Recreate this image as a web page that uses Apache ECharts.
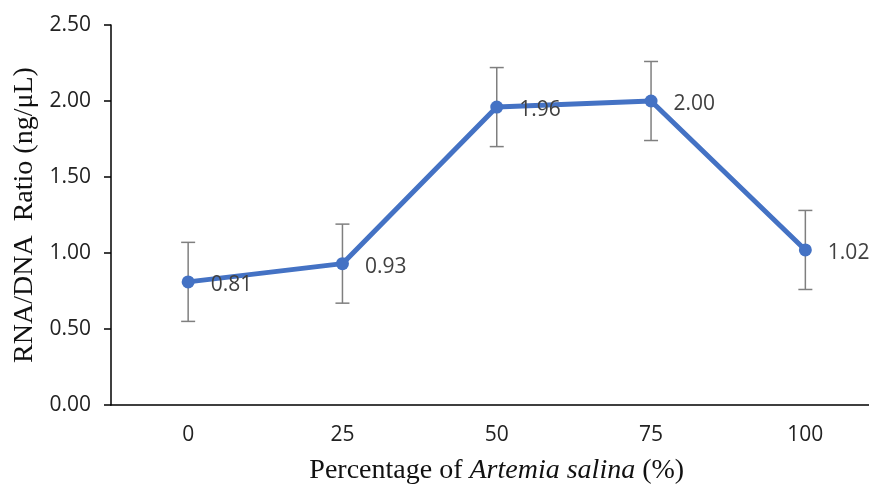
<!DOCTYPE html>
<html>
<head>
<meta charset="utf-8">
<script src="https://cdn.jsdelivr.net/npm/echarts@6/dist/echarts.min.js"></script>
<style>
  html, body { margin: 0; padding: 0; background: #fff; }
  #chart { width: 869px; height: 489px; }
</style>
</head>
<body>
<div id="chart"></div>
<script>
// Percentage of Artemia salina (%)
const categories = ['0', '25', '50', '75', '100'];
// RNA/DNA ratio means
const ratios = [0.81, 0.93, 1.96, 2.00, 1.02];
// error bar half-widths (+/-)
const errors = [0.26, 0.26, 0.26, 0.26, 0.26];

const errorData = ratios.map((v, i) => [i, v - errors[i], v + errors[i]]);

const chart = echarts.init(document.getElementById('chart'), null, { renderer: 'canvas' });

chart.setOption({
  animation: false,
  grid: { left: 111, right: -13.5, top: 25, bottom: 84, outerBoundsMode: 'none' },
  xAxis: {
    type: 'category',
    data: categories,
    boundaryGap: true,
    axisLine: { lineStyle: { color: '#000', width: 1.5 } },
    axisTick: { show: false },
    axisLabel: { color: '#222', fontSize: 21, fontFamily: 'Open Sans', margin: 20 },
    name: '{n|Percentage of }{i|Artemia salina}{n| (%)}',
    nameLocation: 'middle',
    nameGap: 52,
    nameTextStyle: {
      rich: {
        n: { fontFamily: 'Liberation Serif', fontSize: 28, color: '#111' },
        i: { fontFamily: 'Liberation Serif', fontSize: 28, fontStyle: 'italic', color: '#111' }
      }
    }
  },
  yAxis: {
    type: 'value',
    min: 0,
    max: 2.5,
    interval: 0.5,
    axisLine: { show: true, lineStyle: { color: '#000', width: 1.5 } },
    axisTick: { show: true, length: 7, lineStyle: { color: '#000', width: 1.5 } },
    splitLine: { show: false },
    axisLabel: { color: '#222', fontSize: 21, fontFamily: 'Open Sans', margin: 20,
      formatter: v => v.toFixed(2) },
    name: 'RNA/DNA\u2002Ratio (ng/μL)',
    nameLocation: 'middle',
    nameGap: 70,
    nameTextStyle: { fontFamily: 'Liberation Serif', fontSize: 28, color: '#111' }
  },
  series: [
    {
      type: 'custom',
      data: errorData,
      z: 1,
      renderItem: function (params, api) {
        const lo = api.coord([api.value(0), api.value(1)]);
        const hi = api.coord([api.value(0), api.value(2)]);
        const w = 7;
        const style = { stroke: '#7f7f7f', lineWidth: 1.5 };
        return {
          type: 'group',
          children: [
            { type: 'line', shape: { x1: lo[0], y1: lo[1], x2: hi[0], y2: hi[1] }, style },
            { type: 'line', shape: { x1: lo[0] - w, y1: lo[1], x2: lo[0] + w, y2: lo[1] }, style },
            { type: 'line', shape: { x1: hi[0] - w, y1: hi[1], x2: hi[0] + w, y2: hi[1] }, style }
          ]
        };
      }
    },
    {
      type: 'line',
      data: ratios,
      z: 3,
      symbol: 'circle',
      symbolSize: 13,
      lineStyle: { color: '#4472c4', width: 5 },
      itemStyle: { color: '#4472c4' },
      label: {
        show: true,
        position: 'right',
        distance: 16,
        offset: [0, 3],
        color: '#404040',
        fontSize: 21,
        fontFamily: 'Open Sans',
        formatter: p => p.value.toFixed(2)
      }
    }
  ]
});
</script>
</body>
</html>
